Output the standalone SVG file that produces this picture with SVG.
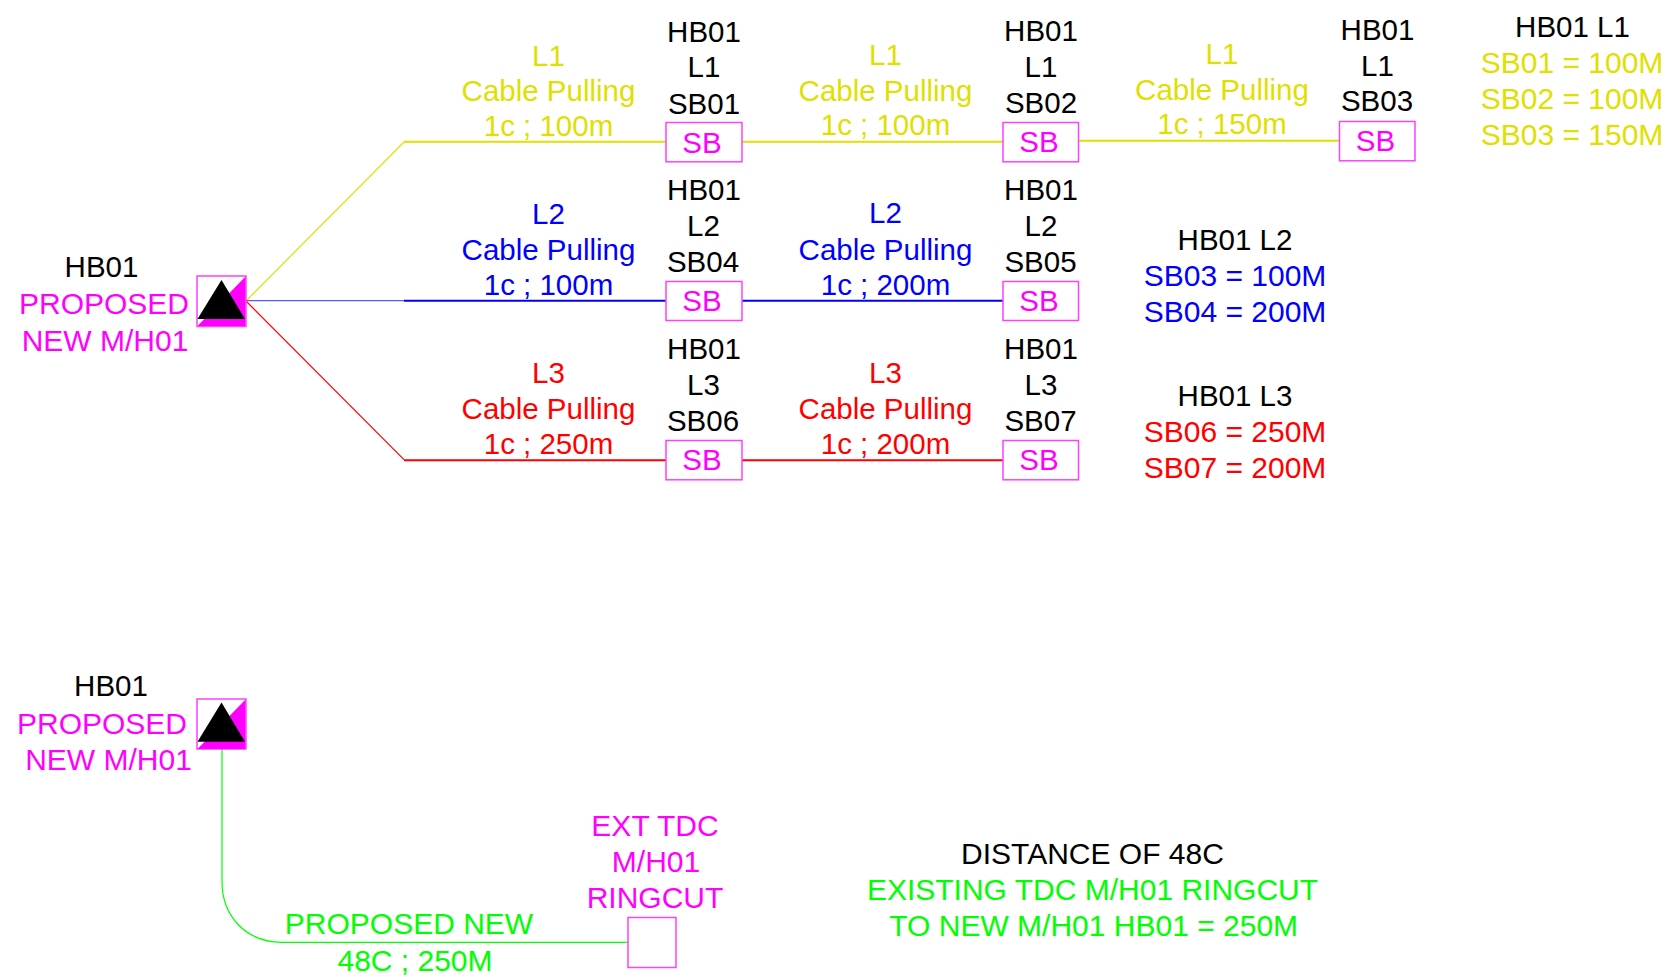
<svg xmlns="http://www.w3.org/2000/svg" width="1668" height="977" viewBox="0 0 1668 977">
<style>
text{font-family:"Liberation Sans",Arial,sans-serif;font-size:29.5px;text-anchor:middle}
.w text{font-size:30px}
.k{fill:#000}.m{fill:#ff00ff}.y{fill:#e0e000}.b{fill:#0000ff}.r{fill:#ff0000}.g{fill:#00ff00}
.box{fill:#fff;stroke:#ff40ff;stroke-width:1.5}
.c{fill:none;stroke-width:2}
.t{fill:none;stroke-width:1.2}
</style>
<rect width="1668" height="977" fill="#fff"/>
<g id="connectors">
<path class="t" stroke="#e0e000" d="M246 301L404 142"/>
<path class="c" stroke="#e0e000" d="M404 141.7H666M742 141.7H1003M1078 140.7H1339"/>
<path class="t" stroke="#5a5aff" d="M246 300.7H404"/>
<path class="c" stroke="#0000ff" d="M404 300.7H666M742 300.7H1003"/>
<path class="t" stroke="#ff0000" d="M246 301L404 459.7"/>
<path class="c" stroke="#ff0000" d="M404 460.2H666M742 460.2H1003"/>
<path class="t" stroke="#00ff00" d="M222 743V881.7C222 915 245 942.3 282 942.3H628"/>
</g>
<g id="mh1" class="w">
<rect x="197" y="276" width="49" height="50.5" class="box"/>
<path class="m" d="M245.500 276.500V326H197.500Z"/>
<path d="M221.500 280L245 319H197.500Z" fill="#000"/>
<text x="101.500" y="276.700" class="k" style="font-size:29.500px">HB01</text>
<text x="104" y="314.300" class="m">PROPOSED</text>
<text x="105" y="350.700" class="m">NEW M/H01</text>
</g>
<g id="mh2" class="w">
<rect x="197" y="699" width="49" height="50" class="box"/>
<path class="m" d="M245.500 699.500V749H197.500Z"/>
<path d="M221.500 702.500L245 741.700H197.500Z" fill="#000"/>
<text x="111" y="695.500" class="k" style="font-size:29.500px">HB01</text>
<text x="102" y="734" class="m">PROPOSED</text>
<text x="108.500" y="770" class="m">NEW M/H01</text>
</g>
<g id="sb01"><rect x="666" y="122.500" width="76" height="39.300" class="box"/><text x="702" y="152.700" class="m">SB</text><text x="704" y="41.700" class="k">HB01</text><text x="704" y="77" class="k">L1</text><text x="704" y="113.500" class="k">SB01</text></g>
<g id="sb02"><rect x="1003" y="122.500" width="75.500" height="39.300" class="box"/><text x="1039" y="151.700" class="m">SB</text><text x="1041" y="40.700" class="k">HB01</text><text x="1041" y="76.500" class="k">L1</text><text x="1041" y="112.700" class="k">SB02</text></g>
<g id="sb03"><rect x="1339.500" y="121.500" width="75.500" height="39.300" class="box"/><text x="1375.500" y="150.800" class="m">SB</text><text x="1377.500" y="40" class="k">HB01</text><text x="1377.500" y="75.800" class="k">L1</text><text x="1377" y="111.300" class="k">SB03</text></g>
<g id="sb04"><rect x="666" y="281.500" width="76" height="39" class="box"/><text x="702" y="310.700" class="m">SB</text><text x="704" y="200" class="k">HB01</text><text x="703.500" y="235.500" class="k">L2</text><text x="703" y="271.700" class="k">SB04</text></g>
<g id="sb05"><rect x="1003" y="281.500" width="75.500" height="39" class="box"/><text x="1039" y="310.700" class="m">SB</text><text x="1041" y="200" class="k">HB01</text><text x="1041" y="235.500" class="k">L2</text><text x="1040.500" y="271.700" class="k">SB05</text></g>
<g id="sb06"><rect x="666" y="440.500" width="76" height="39.300" class="box"/><text x="702" y="470" class="m">SB</text><text x="704" y="359" class="k">HB01</text><text x="703.500" y="395" class="k">L3</text><text x="703" y="431" class="k">SB06</text></g>
<g id="sb07"><rect x="1003" y="440.500" width="75.500" height="39.300" class="box"/><text x="1039" y="470" class="m">SB</text><text x="1041" y="359" class="k">HB01</text><text x="1041" y="395" class="k">L3</text><text x="1040.500" y="431" class="k">SB07</text></g>
<g id="ringcut" class="w"><rect x="628" y="917.500" width="48" height="50" class="box"/><text x="655" y="836" class="m">EXT TDC</text><text x="656" y="872" class="m">M/H01</text><text x="655" y="908.300" class="m">RINGCUT</text></g>
<g id="cable-labels">
<text x="548.500" y="65.700" class="y">L1</text><text x="548.500" y="100.700" class="y">Cable Pulling</text><text x="548.500" y="135.700" class="y">1c ; 100m</text>
<text x="885.500" y="64.700" class="y">L1</text><text x="885.500" y="100.500" class="y">Cable Pulling</text><text x="885.500" y="135.300" class="y">1c ; 100m</text>
<text x="1222" y="63.700" class="y">L1</text><text x="1222" y="99.700" class="y">Cable Pulling</text><text x="1222" y="134.300" class="y">1c ; 150m</text>
<text x="548.500" y="224.300" class="b">L2</text><text x="548.500" y="259.700" class="b">Cable Pulling</text><text x="548.500" y="295" class="b">1c ; 100m</text>
<text x="885.500" y="223.300" class="b">L2</text><text x="885.500" y="259.700" class="b">Cable Pulling</text><text x="885.500" y="295" class="b">1c ; 200m</text>
<text x="548.500" y="383" class="r">L3</text><text x="548.500" y="418.700" class="r">Cable Pulling</text><text x="548.500" y="454" class="r">1c ; 250m</text>
<text x="885.500" y="383" class="r">L3</text><text x="885.500" y="418.700" class="r">Cable Pulling</text><text x="885.500" y="454" class="r">1c ; 200m</text>
<g class="w"><text x="409" y="934" class="g">PROPOSED NEW</text><text x="415" y="970.500" class="g">48C ; 250M</text></g>
</g>
<g id="legends" class="w">
<text x="1572.500" y="36.700" class="k" style="font-size:29.500px">HB01 L1</text><text x="1572" y="72.700" class="y">SB01 = 100M</text><text x="1572" y="108.700" class="y">SB02 = 100M</text><text x="1572" y="144.700" class="y">SB03 = 150M</text>
<text x="1235" y="249.700" class="k" style="font-size:29.500px">HB01 L2</text><text x="1235" y="285.700" class="b">SB03 = 100M</text><text x="1235" y="321.700" class="b">SB04 = 200M</text>
<text x="1235" y="405.700" class="k" style="font-size:29.500px">HB01 L3</text><text x="1235" y="441.700" class="r">SB06 = 250M</text><text x="1235" y="477.700" class="r">SB07 = 200M</text>
<text x="1092.500" y="863.800" class="k">DISTANCE OF 48C</text><text x="1092.500" y="899.800" class="g">EXISTING TDC M/H01 RINGCUT</text><text x="1093.700" y="935.800" class="g">TO NEW M/H01 HB01 = 250M</text>
</g>
</svg>
